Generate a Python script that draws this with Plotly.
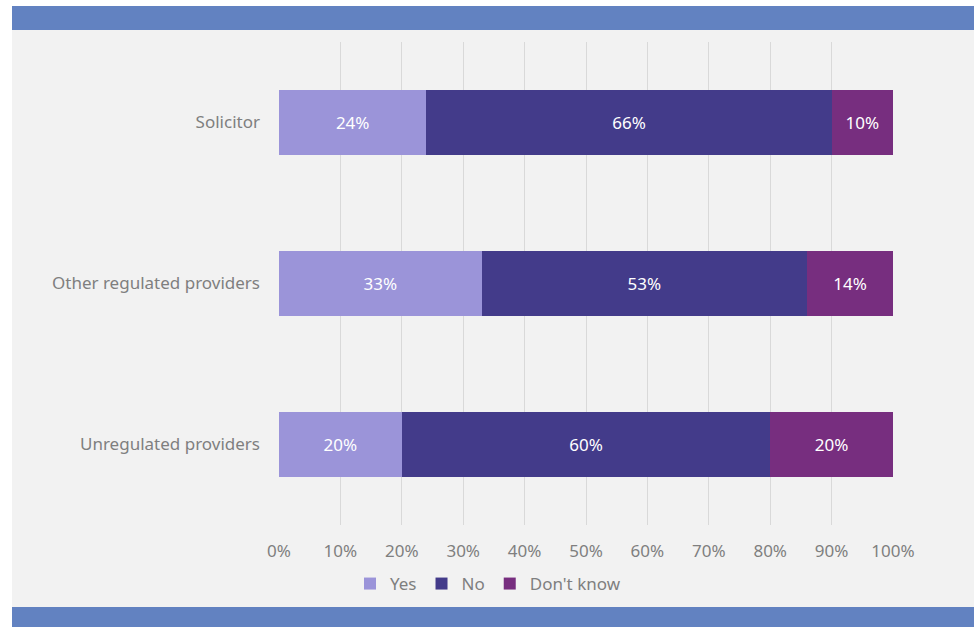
import plotly.graph_objects as go

categories = ["Solicitor", "Other regulated providers", "Unregulated providers"]
yes_vals = [24, 33, 20]
no_vals = [66, 53, 60]
dk_vals = [10, 14, 20]
series_names = ["Yes", "No", "Don't know"]
colors = ["#9b94d9", "#433b8a", "#772e7f"]
tick_vals = [0, 10, 20, 30, 40, 50, 60, 70, 80, 90, 100]
tick_text = [f"{v}%" for v in tick_vals]

W, H = 974, 627
L, R, T, B = 279, 81, 42, 102
PW, PH = W - L - R, H - T - B

def px_x(px):
    return (px - L) / PW

def px_y(py):
    return (H - B - py) / PH

FONT = "Noto Sans"
FS = 17
fig = go.Figure()
for name, vals, col in zip(series_names, [yes_vals, no_vals, dk_vals], colors):
    fig.add_trace(go.Bar(
        y=categories, x=vals, name=name, orientation="h",
        marker=dict(color=col, line=dict(width=0)),
        text=[f"{v}%" for v in vals], textposition="inside",
        insidetextanchor="middle",
        textfont=dict(color="white", size=FS, family=FONT),
        hoverinfo="skip",
    ))

shapes = [
    dict(type="rect", xref="paper", yref="paper", x0=px_x(12), x1=px_x(974),
         y0=px_y(607), y1=px_y(30), fillcolor="#f2f2f2", line=dict(width=0), layer="below"),
    dict(type="rect", xref="paper", yref="paper", x0=px_x(12), x1=px_x(974),
         y0=px_y(30), y1=px_y(6), fillcolor="#6282c1", line=dict(width=0), layer="below"),
    dict(type="rect", xref="paper", yref="paper", x0=px_x(12), x1=px_x(974),
         y0=px_y(627), y1=px_y(607), fillcolor="#6282c1", line=dict(width=0), layer="below"),
]

fig.update_layout(
    width=W, height=H, barmode="stack", bargap=0.6,
    margin=dict(l=L, r=R, t=T, b=B, pad=0),
    paper_bgcolor="white", plot_bgcolor="rgba(0,0,0,0)",
    font=dict(family=FONT, size=FS, color="#7f7f7f"),
    shapes=shapes,
    xaxis=dict(range=[0, 100], tickvals=tick_vals, ticktext=tick_text,
               showgrid=True, gridcolor="#d9d9d9", gridwidth=1, zeroline=False,
               showline=False, ticks="", tickfont=dict(size=FS, color="#7f7f7f"),
               ticklabelstandoff=14, fixedrange=True),
    yaxis=dict(categoryorder="array", categoryarray=categories, autorange="reversed",
               showgrid=False, zeroline=False, showline=False, ticks="",
               ticklabelstandoff=18, tickfont=dict(size=FS, color="#7f7f7f"),
               fixedrange=True),
    legend=dict(orientation="h", x=px_x(488), xanchor="center", y=px_y(584),
                yanchor="middle", font=dict(size=FS, color="#7f7f7f"),
                bgcolor="rgba(0,0,0,0)", traceorder="normal", itemwidth=30,
                tracegroupgap=0),
    uniformtext=dict(mode="show", minsize=10),
)
fig.write_html("out.html", config={"displayModeBar": False},
               post_script="document.body.style.margin='0';document.body.style.padding='0';")
